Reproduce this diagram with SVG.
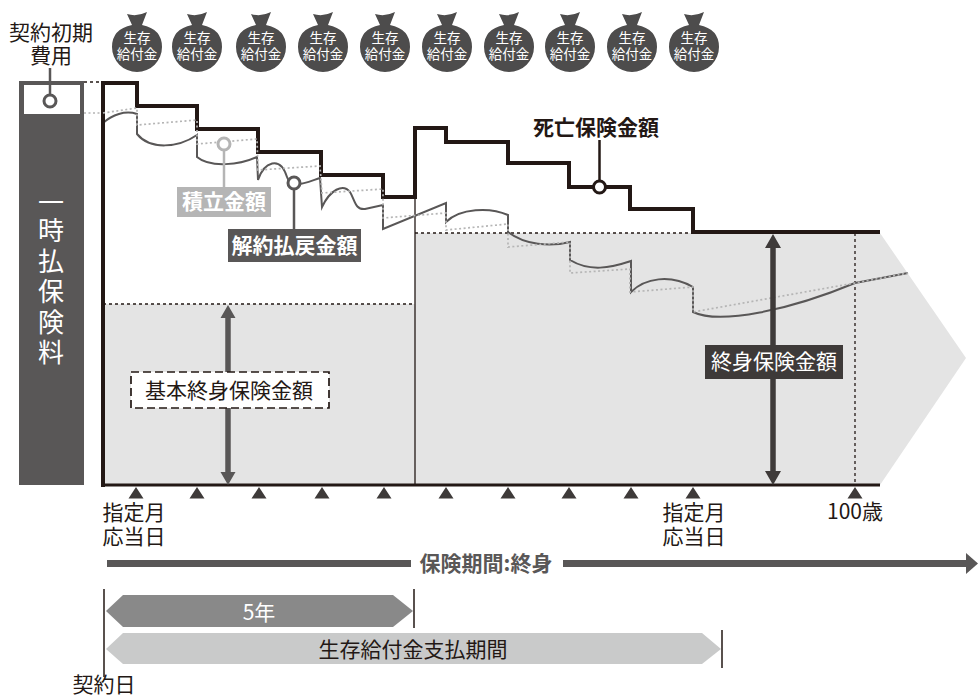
<svg xmlns="http://www.w3.org/2000/svg" width="978" height="699" viewBox="0 0 978 699">
<style>
text{font-family:"Noto Sans CJK JP","Noto Sans",sans-serif;text-anchor:middle}
.t{font-size:21px;fill:#231815}
.b{font-weight:700;font-size:21px}
.w{fill:#fff}
.bag{font-size:13.500px;fill:#fff}
.k{font-size:26px;fill:#fff}
.death{fill:none;stroke:#231815;stroke-width:4}
.sv{fill:none;stroke:#595757;stroke-width:2}
.acc{fill:none;stroke:#b5b5b5;stroke-width:1.700;stroke-dasharray:2 2.500}
.dash{fill:none;stroke:#231815;stroke-width:1.300;stroke-dasharray:3 3}
</style>
<defs>
<path id="bag" d="M-10 14 Q0 17 10 12 L5 25 Q25 29 25 47 A25 25 0 0 1-25 47 Q-25 29-5 25Z" fill="#4d4c4c"/>
</defs>
<g id="areas">
<rect x="103" y="304" width="312" height="181" fill="#e4e4e4"/>
<path d="M415 233H880L966 358L880 485H415Z" fill="#e4e4e4"/>
</g>
<g id="bags">
<g id="bag1" transform="translate(137,0)"><use href="#bag"/><text class="bag" y="43">生存</text><text class="bag" y="59">給付金</text></g>
<g id="bag2" transform="translate(197,0)"><use href="#bag"/><text class="bag" y="43">生存</text><text class="bag" y="59">給付金</text></g>
<g id="bag3" transform="translate(261,0)"><use href="#bag"/><text class="bag" y="43">生存</text><text class="bag" y="59">給付金</text></g>
<g id="bag4" transform="translate(323,0)"><use href="#bag"/><text class="bag" y="43">生存</text><text class="bag" y="59">給付金</text></g>
<g id="bag5" transform="translate(385,0)"><use href="#bag"/><text class="bag" y="43">生存</text><text class="bag" y="59">給付金</text></g>
<g id="bag6" transform="translate(447,0)"><use href="#bag"/><text class="bag" y="43">生存</text><text class="bag" y="59">給付金</text></g>
<g id="bag7" transform="translate(509,0)"><use href="#bag"/><text class="bag" y="43">生存</text><text class="bag" y="59">給付金</text></g>
<g id="bag8" transform="translate(570,0)"><use href="#bag"/><text class="bag" y="43">生存</text><text class="bag" y="59">給付金</text></g>
<g id="bag9" transform="translate(632,0)"><use href="#bag"/><text class="bag" y="43">生存</text><text class="bag" y="59">給付金</text></g>
<g id="bag10" transform="translate(694,0)"><use href="#bag"/><text class="bag" y="43">生存</text><text class="bag" y="59">給付金</text></g>
</g>
<g id="premium">
<rect x="19" y="81" width="65" height="404" fill="#595757"/>
<rect x="24" y="85" width="56" height="29" fill="#fff"/>
<text class="t" x="51" y="40">契約初期</text>
<text class="t" x="51" y="63">費用</text>
<path d="M50 68V98" stroke="#595757" stroke-width="2.500"/>
<circle cx="50" cy="101" r="6" fill="#fff" stroke="#595757" stroke-width="3"/>
<text class="k" x="51" y="212">一</text><text class="k" x="51" y="240">時</text><text class="k" x="51" y="271">払</text><text class="k" x="51" y="301">保</text><text class="k" x="51" y="332">険</text><text class="k" x="51" y="362">料</text>
</g>
<g id="connectors">
<path class="dash" d="M84 82H103"/>
<path d="M84 113H103" class="acc"/>
<path d="M415 197V485" stroke="#231815" stroke-width="1.300" fill="none"/>
<path class="dash" d="M103 304H415M415 233H693"/>
<path class="dash" d="M855 233V485"/>
<path class="sv" d="M103 123C112 115 125 110 137 114V134C150 150 178 148 197 135V157C210 168 240 165 257 157L258 180C264 162 280 155 287 177C291 190 305 183 320 178L322 207C330 190 343 183 350 192C355 200 355 210 365 209L383 205V229L446 203V222C460 208 490 207 508 215V232C525 245 550 247 570 242V260C590 272 610 268 631 261V292C645 278 670 274 693 287V312C720 325 790 310 855 283L908 273"/>
<path class="death" d="M103 487V83H137V106H197V129H258V152H321V175H383V197H415V128H446V142H508V163H569V187H630V209H693V232H880"/>
<path class="acc" d="M103 113L137 108V125L197 120V144L257 139L258 170L320 166L322 193L383 189V218L446 213V230L508 224V247L570 242V273L630 269V292L693 287V312L855 283L908 273"/>
<path d="M103 485H880" stroke="#231815" stroke-width="3"/>
<path d="M224 150V187" stroke="#b5b5b5" stroke-width="2.500"/>
<circle cx="224" cy="144" r="6" fill="#fff" stroke="#b5b5b5" stroke-width="3"/>
<path d="M294 190V232" stroke="#595757" stroke-width="2.500"/>
<circle cx="294" cy="183" r="6" fill="#fff" stroke="#595757" stroke-width="3"/>
<path d="M599.500 140V180" stroke="#231815" stroke-width="2.500"/>
<circle cx="599.500" cy="187" r="6" fill="#fff" stroke="#231815" stroke-width="3"/>
<path d="M228 315V378M228 406V474" stroke="#595757" stroke-width="5.500"/>
<path d="M228 305L235.500 318H220.500ZM228 485L235.500 472H220.500Z" fill="#595757"/>
<path d="M773 245V480" stroke="#3e3a39" stroke-width="5.500"/>
<path d="M773 234L781 248H765ZM773 485L781 471H765Z" fill="#3e3a39"/>
</g>
<g id="labels">
<rect x="177" y="187" width="94" height="30" fill="#b5b5b5"/><text class="b w" x="224" y="209">積立金額</text>
<rect x="228" y="229" width="133" height="33" fill="#595757"/><text class="b w" x="294.500" y="253">解約払戻金額</text>
<text class="b" x="596" y="135" fill="#231815">死亡保険金額</text>
<rect x="131" y="372" width="198" height="36" fill="#fff" stroke="#231815" stroke-width="1.700" stroke-dasharray="8 4"/><text class="t" x="229" y="398">基本終身保険金額</text>
<rect x="705" y="345" width="138" height="34" fill="#3e3a39"/><text class="t w" x="774" y="369">終身保険金額</text>
</g>
<g id="ticks" fill="#3e3a39">
<path d="M136 487l7.500 11.500h-15zM197 487l7.500 11.500h-15zM259 487l7.500 11.500h-15zM322 487l7.500 11.500h-15zM384 487l7.500 11.500h-15zM446 487l7.500 11.500h-15zM508 487l7.500 11.500h-15zM569 487l7.500 11.500h-15zM631 487l7.500 11.500h-15zM693 487l7.500 11.500h-15zM855 487l7.500 11.500h-15z"/>
<text class="t" x="134" y="520">指定月</text><text class="t" x="134" y="544">応当日</text>
<text class="t" x="694" y="520">指定月</text><text class="t" x="694" y="544">応当日</text>
<text class="t" x="855" y="519">100歳</text>
</g>
<g id="period">
<path d="M107 563.500H411M563 563.500H966" stroke="#595757" stroke-width="7"/>
<path d="M966 553L978 563.500L966 574Z" fill="#595757"/>
<text class="b" x="486" y="571" fill="#595757">保険期間:終身</text>
<path d="M104 589V677M414 589V628M722 630V668" stroke="#231815" stroke-width="1.500" fill="none"/>
<path d="M106 611L123 595H393L413 611L393 627H123Z" fill="#898989"/>
<text class="t w" x="259" y="620">5年</text>
<path d="M106 649L123 633H702L721 649L702 664H123Z" fill="#c9caca"/>
<text class="t" x="413" y="657">生存給付金支払期間</text>
<text class="t" x="104" y="692">契約日</text>
</g>
</svg>
